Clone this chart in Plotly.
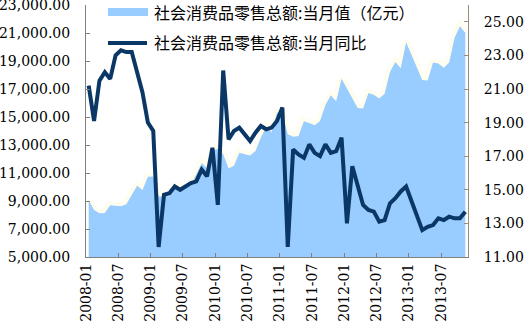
import plotly.graph_objects as go

# ---- data -------------------------------------------------------------
months = [f"{y}-{m:02d}" for y in range(2008, 2014) for m in range(1, 13)][:71]  # 2008-01 .. 2013-11

# 社会消费品零售总额:当月值（亿元）
retail_value = [
    9077, 8355, 8123, 8142, 8704, 8642, 8629, 8768, 9447, 10083, 9791, 10729,      # 2008
    10757, 9324, 9318, 9343, 10028, 9942, 9937, 10116, 10913, 11718, 11339, 12610, # 2009
    12718, 12334, 11322, 11510, 12455, 12330, 12252, 12570, 13537, 14284, 13911, 15330, # 2010
    15249, 13769, 13588, 13649, 14697, 14565, 14408, 14706, 15865, 16547, 16128, 17740, # 2011
    None, None, 15650, 15603, 16715, 16584, 16315, 16659, 18227, 18934, 18477, 20334,   # 2012
    None, None, 17641, 17600, 18886, 18827, 18513, 18886, 20653, 21491, 21012,          # 2013
]

# 社会消费品零售总额:当月同比（%）
retail_yoy = [
    21.2, 19.1, 21.5, 22.0, 21.6, 23.0, 23.3, 23.2, 23.2, 22.0, 20.8, 19.0,  # 2008
    18.5, 11.6, 14.7, 14.8, 15.2, 15.0, 15.2, 15.4, 15.5, 16.2, 15.8, 17.5,  # 2009
    14.1, 22.1, 18.0, 18.5, 18.7, 18.3, 17.9, 18.4, 18.8, 18.6, 18.7, 19.1,  # 2010
    19.9, 11.6, 17.4, 17.1, 16.9, 17.7, 17.2, 17.0, 17.7, 17.2, 17.3, 18.1,  # 2011
    13.0, 16.4, 15.2, 14.1, 13.8, 13.7, 13.1, 13.2, 14.2, 14.5, 14.9, 15.2,  # 2012
    None, None, 12.6, 12.8, 12.9, 13.3, 13.2, 13.4, 13.3, 13.3, 13.7,        # 2013
]

name_value = "社会消费品零售总额:当月值（亿元）"
name_yoy = "社会消费品零售总额:当月同比"

left_ticks = list(range(5000, 23001, 2000))
right_ticks = list(range(11, 26, 2))
tick_idx = list(range(0, 71, 6))

AREA_COLOR = "#99CCFF"
LINE_COLOR = "#0B3766"

# ---- figure -----------------------------------------------------------
W, H = 525, 324
ML, MR, MT, MB = 86, 57, 5, 67
PW, PH = W - ML - MR, H - MT - MB


def px_x(p):
    return (p - ML) / PW


def px_y(p):
    return (H - MB - p) / PH


x = [i + 0.5 for i in range(len(months))]

fig = go.Figure()

# soft glow above the area edge
fig.add_trace(go.Scatter(
    x=x, y=retail_value, mode="lines", connectgaps=True,
    line=dict(color="#FFFDF0", width=8), showlegend=False, hoverinfo="skip",
))
fig.add_trace(go.Scatter(
    x=x, y=retail_value, name=name_value, mode="lines", connectgaps=True,
    fill="tozeroy", fillcolor=AREA_COLOR, line=dict(color=AREA_COLOR, width=0),
    showlegend=False,
))
fig.add_trace(go.Scatter(
    x=x, y=retail_yoy, name=name_yoy, mode="lines", connectgaps=True,
    line=dict(color=LINE_COLOR, width=4), yaxis="y2", showlegend=False,
))

tick_font = dict(family="DejaVu Serif", size=14, color="#000000")
legend_font = dict(family="Noto Sans CJK SC", size=16, color="#000000")

# legend (drawn as shapes + text)
shapes = [
    dict(type="rect", xref="paper", yref="paper",
         x0=px_x(108), x1=px_x(148), y0=px_y(16), y1=px_y(8),
         fillcolor=AREA_COLOR, line=dict(width=0), layer="above"),
    dict(type="line", xref="paper", yref="paper",
         x0=px_x(108), x1=px_x(147), y0=px_y(43), y1=px_y(43),
         line=dict(color=LINE_COLOR, width=4), layer="above"),
]
annotations = [
    dict(text=name_value, xref="paper", yref="paper", x=px_x(152), y=px_y(12),
         xanchor="left", yanchor="middle", showarrow=False, font=legend_font),
    dict(text=name_yoy, xref="paper", yref="paper", x=px_x(152), y=px_y(42),
         xanchor="left", yanchor="middle", showarrow=False, font=legend_font),
]

fig.update_layout(
    width=W, height=H,
    margin=dict(l=ML, r=MR, t=MT, b=MB, autoexpand=False),
    paper_bgcolor="white", plot_bgcolor="white",
    showlegend=False,
    shapes=shapes, annotations=annotations,
    xaxis=dict(
        range=[0, 71], tickmode="array", tickvals=tick_idx,
        ticktext=[months[i] for i in tick_idx], tickangle=-90,
        ticks="inside", ticklen=4, tickcolor="#808080",
        showline=True, linecolor="#808080", linewidth=1,
        showgrid=False, zeroline=False, tickfont=tick_font,
        ticklabeloverflow="allow", automargin=False,
    ),
    yaxis=dict(
        range=[5000, 23000], tickmode="array", tickvals=left_ticks,
        tickformat=",.2f", ticks="inside", ticklen=4, tickcolor="#808080",
        showline=True, linecolor="#808080", linewidth=1,
        showgrid=False, zeroline=False, tickfont=tick_font,
        ticklabelstandoff=12, ticklabeloverflow="allow", automargin=False,
    ),
    yaxis2=dict(
        range=[11, 26], tickmode="array", tickvals=right_ticks,
        tickformat=".2f", ticks="inside", ticklen=4, tickcolor="#9C8C7A",
        showline=True, linecolor="#9C8C7A", linewidth=1,
        showgrid=False, zeroline=False, tickfont=tick_font,
        overlaying="y", side="right", ticklabelstandoff=12,
        ticklabeloverflow="allow", automargin=False,
    ),
)

fig.write_html("out.html")
